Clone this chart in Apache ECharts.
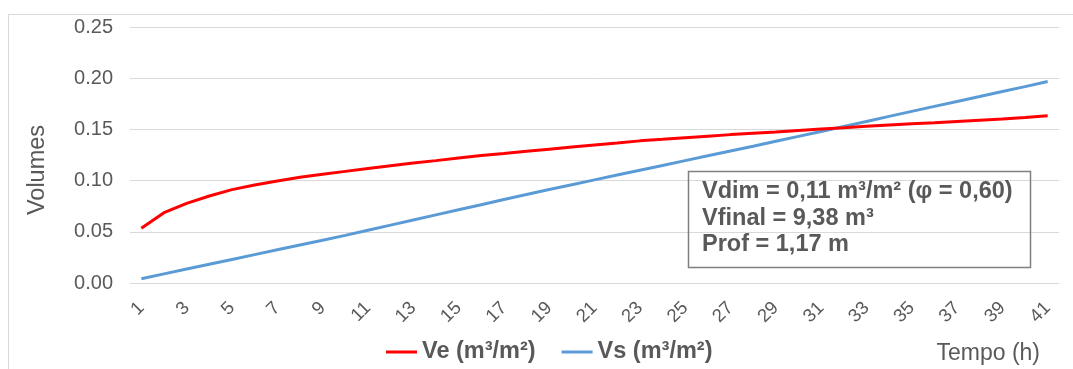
<!DOCTYPE html>
<html>
<head>
<meta charset="utf-8">
<script src="https://cdn.jsdelivr.net/npm/echarts@6/dist/echarts.min.js"></script>
<style>
  html, body { margin: 0; padding: 0; background: #ffffff; }
  #chart { width: 1073px; height: 369px; }
</style>
</head>
<body>
<div id="chart"></div>
<script>
// Hours (x categories)
const hours = ['1','2','3','4','5','6','7','8','9','10','11','12','13','14','15','16','17','18','19','20',
               '21','22','23','24','25','26','27','28','29','30','31','32','33','34','35','36','37','38','39','40','41'];

// Ve (m³/m²) – inflow volume per unit area
const ve = [0.0534, 0.0687, 0.0778, 0.0850, 0.0912, 0.0957, 0.0996, 0.1032, 0.1062, 0.1090,
            0.1118, 0.1145, 0.1172, 0.1195, 0.1220, 0.1245, 0.1265, 0.1286, 0.1307, 0.1328,
            0.1348, 0.1367, 0.1388, 0.1403, 0.1419, 0.1434, 0.1449, 0.1462, 0.1475, 0.1490,
            0.1503, 0.1515, 0.1530, 0.1543, 0.1556, 0.1566, 0.1578, 0.1590, 0.1602, 0.1616, 0.1634];

// Vs (m³/m²) – outflow volume per unit area
const vs = [0.0042, 0.0089, 0.0136, 0.0183, 0.0230, 0.0277, 0.0324, 0.0371, 0.0418, 0.0465,
            0.0515, 0.0565, 0.0615, 0.0665, 0.0715, 0.0765, 0.0815, 0.0865, 0.0913, 0.0960,
            0.1007, 0.1054, 0.1101, 0.1148, 0.1195, 0.1242, 0.1289, 0.1336, 0.1384, 0.1432,
            0.1480, 0.1529, 0.1578, 0.1627, 0.1676, 0.1725, 0.1773, 0.1821, 0.1870, 0.1918, 0.1967];

// Summary box text
const noteLines = ['Vdim = 0,11 m³/m² (φ = 0,60)', 'Vfinal = 9,38 m³', 'Prof = 1,17 m'];

const FONT = "'Liberation Sans', Arial, sans-serif";
const TEXT = '#595959';

const chart = echarts.init(document.getElementById('chart'), null, { renderer: 'canvas' });

chart.setOption({
  animation: false,
  backgroundColor: '#ffffff',
  textStyle: { fontFamily: FONT },
  grid: { left: 130, right: 14, top: 27, bottom: 86, containLabel: false, outerBoundsMode: 'none' },
  legend: {
    left: 381,
    top: 335,
    icon: 'rect',
    itemWidth: 31,
    itemHeight: 3,
    itemGap: 26,
    textStyle: { fontFamily: FONT, fontSize: 23.5, fontWeight: 'bold', color: TEXT },
    data: ['Ve (m³/m²)', 'Vs (m³/m²)']
  },
  xAxis: {
    type: 'category',
    data: hours,
    boundaryGap: true,
    axisLine: { show: false },
    axisTick: { show: false },
    axisLabel: { interval: 1, rotate: 45, margin: 22, fontSize: 18.5, color: TEXT, fontFamily: FONT }
  },
  yAxis: {
    type: 'value',
    min: 0,
    max: 0.25,
    interval: 0.05,
    axisLine: { show: false },
    axisTick: { show: false },
    splitLine: { lineStyle: { color: '#d9d9d9', width: 1 } },
    axisLabel: { margin: 17, fontSize: 20, color: TEXT, fontFamily: FONT, formatter: v => v.toFixed(2) }
  },
  series: [
    {
      name: 'Ve (m³/m²)', type: 'line', data: ve, symbol: 'none', showSymbol: false,
      lineStyle: { color: '#ff0000', width: 3 }, itemStyle: { color: '#ff0000' }, z: 3
    },
    {
      name: 'Vs (m³/m²)', type: 'line', data: vs, symbol: 'none', showSymbol: false,
      lineStyle: { color: '#5b9bd5', width: 3 }, itemStyle: { color: '#5b9bd5' }, z: 2
    }
  ],
  graphic: [
    // chart frame
    { type: 'rect', shape: { x: 8.5, y: 14.5, width: 1100, height: 400 }, style: { fill: 'none', stroke: '#d9d9d9', lineWidth: 1 }, silent: true, z: 0 },
    // y axis title
    { type: 'text', x: 38, y: 170, rotation: Math.PI / 2,
      style: { text: 'Volumes', fontFamily: FONT, fontSize: 23.5, fill: TEXT, align: 'center', verticalAlign: 'middle' } },
    // x axis title
    { type: 'text', x: 936.5, y: 354,
      style: { text: 'Tempo (h)', fontFamily: FONT, fontSize: 23, fill: TEXT, align: 'left', verticalAlign: 'middle' } },
    // summary box
    { type: 'rect', shape: { x: 688.5, y: 171.5, width: 342, height: 96 }, style: { fill: 'none', stroke: '#7f7f7f', lineWidth: 1.5 }, z: 10 },
    { type: 'text', x: 702, y: 192, z: 10,
      style: { text: noteLines[0], fontFamily: FONT, fontSize: 23.5, fontWeight: 'bold', fill: TEXT, align: 'left', verticalAlign: 'middle' } },
    { type: 'text', x: 702, y: 218.5, z: 10,
      style: { text: noteLines[1], fontFamily: FONT, fontSize: 23.5, fontWeight: 'bold', fill: TEXT, align: 'left', verticalAlign: 'middle' } },
    { type: 'text', x: 702, y: 245, z: 10,
      style: { text: noteLines[2], fontFamily: FONT, fontSize: 23.5, fontWeight: 'bold', fill: TEXT, align: 'left', verticalAlign: 'middle' } }
  ]
});
</script>
</body>
</html>
